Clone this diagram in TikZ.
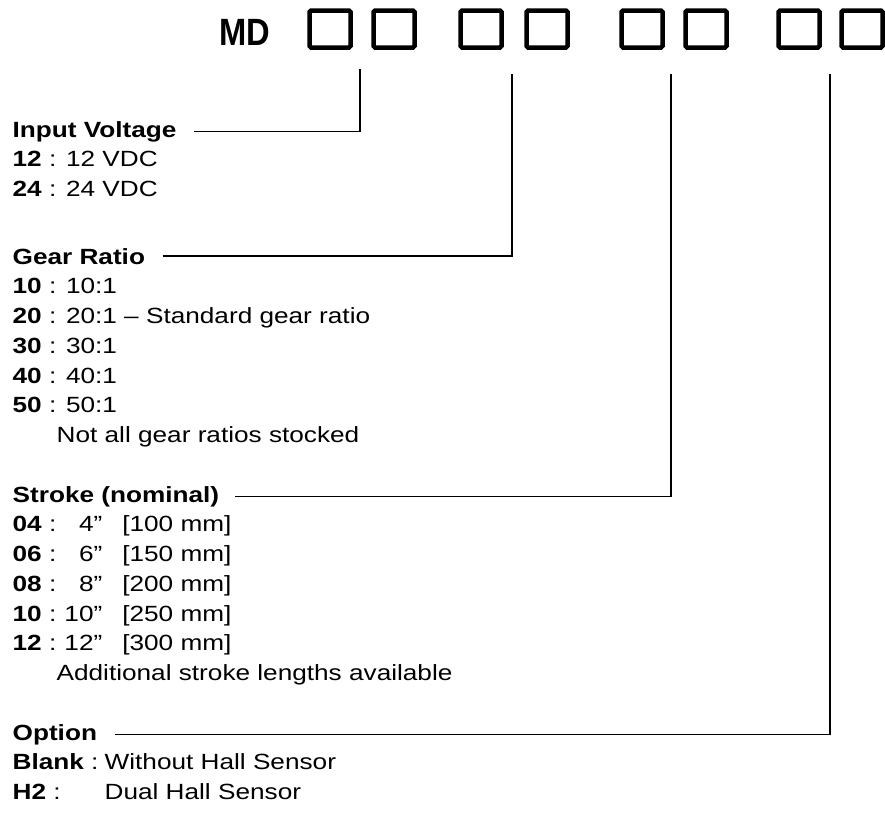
\documentclass[tikz,border=0pt]{standalone}
\usepackage{fontspec}
\setmainfont[FakeStretch=1.19]{Liberation Sans}
\newfontfamily\codefont[FakeStretch=0.86]{Liberation Sans}
\usetikzlibrary{positioning}

% one row of the stroke table
\newcommand\strokerow[3]{\textbf{#1} :\makebox[46pt][r]{#2}\hspace{20pt}[#3]}

\begin{document}
\begin{tikzpicture}[
    x=1pt, y=-1pt,
    every node/.style={font=\fontsize{22}{26}\selectfont, inner sep=0pt, anchor=base west},
    header/.style={font=\fontsize{22}{26}\selectfont\bfseries},
    codebox/.style={draw, line width=4.5pt, rounded corners=1.5pt,
        minimum width=41pt, minimum height=37pt, anchor=center},
    line width=1.3pt
]

\useasboundingbox (0,0) rectangle (885,814);

% Part number
\node[font=\codefont\bfseries\fontsize{38}{38}\selectfont] (md) at (219,45) {MD};
\foreach \bx [count=\k] in {330,394,481,547,642,706,799,862}
    \node[codebox] (box\k) at (\bx,29) {};

\coordinate (v1) at (360,69);
\coordinate (v2) at (512,74);
\coordinate (v3) at (671,74);
\coordinate (v4) at (830,74);

% Input voltage
\node[header] (volt) at (12,137) {Input Voltage};
\node (volt12) at (12,166.75) {\textbf{12} : 12 VDC};
\node (volt24) at (12,196.5) {\textbf{24} : 24 VDC};

% Gear ratio
\node[header] (gear) at (12,264) {Gear Ratio};
\node (gear10) at (12,293.75) {\textbf{10} : 10:1};
\node (gear20) at (12,323.5) {\textbf{20} : 20:1 -- Standard gear ratio};
\node (gear30) at (12,353.25) {\textbf{30} : 30:1};
\node (gear40) at (12,383) {\textbf{40} : 40:1};
\node (gear50) at (12,412.75) {\textbf{50} : 50:1};
\node (gearnote) at (56,442.5) {Not all gear ratios stocked};

% Stroke
\node[header] (stroke) at (12,502) {Stroke (nominal)};
\node (stroke04) at (12,531.75) {\strokerow{04}{4”}{100 mm}};
\node (stroke06) at (12,561.5) {\strokerow{06}{6”}{150 mm}};
\node (stroke08) at (12,591.25) {\strokerow{08}{8”}{200 mm}};
\node (stroke10) at (12,621) {\strokerow{10}{10”}{250 mm}};
\node (stroke12) at (12,650.75) {\strokerow{12}{12”}{300 mm}};
\node (strokenote) at (56,680.5) {Additional stroke lengths available};

% Option
\node[header] (opt) at (12,740) {Option};
\node (optblank) at (12,769.75) {\makebox[92pt][l]{\textbf{Blank} :}Without Hall Sensor};
\node (opth2) at (12,799.5) {\makebox[92pt][l]{\textbf{H2} :}Dual Hall Sensor};

% Leaders
\draw ([xshift=17pt]volt.east) -| (v1);
\draw ([xshift=17pt]gear.east) -| (v2);
\draw ([xshift=15pt]stroke.east) -| (v3);
\draw ([xshift=17pt]opt.east) -| (v4);

\end{tikzpicture}
\end{document}
